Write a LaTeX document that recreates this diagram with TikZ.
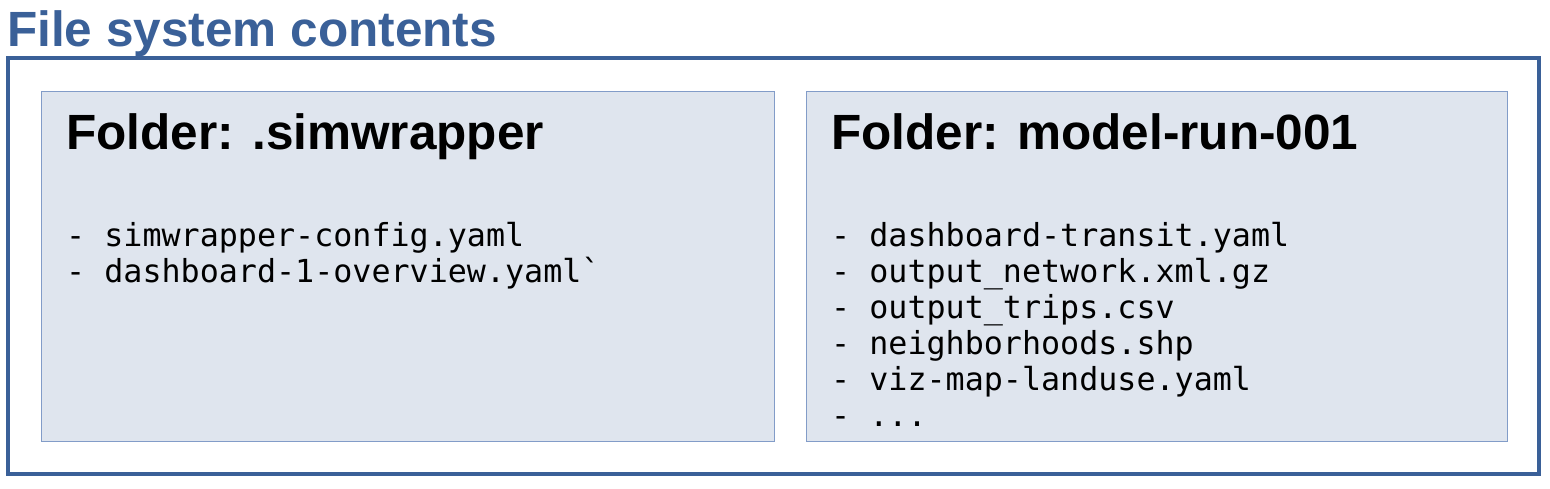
\documentclass[tikz,border=0pt]{standalone}
\usepackage{fontspec}
\setmainfont{Liberation Sans}
\setmonofont{DejaVu Sans Mono}
\usetikzlibrary{positioning}
\definecolor{fsblue}{RGB}{58,96,152}
\definecolor{panelfill}{RGB}{223,229,238}
\definecolor{paneledge}{RGB}{130,156,200}

\begin{document}
\begin{tikzpicture}[x=1pt,y=-1pt]
% Styles: outer frame, folder panels, headings and file lines
\tikzstyle{frame}=[draw=fsblue,line width=4.5pt]
\tikzstyle{panel}=[draw=paneledge,fill=panelfill,line width=1pt]
\tikzstyle{heading}=[anchor=base west,inner sep=0,font=\bfseries\fontsize{49.5}{58}\selectfont]
\tikzstyle{file}=[anchor=base west,inner sep=0,font=\ttfamily\fontsize{31.7}{36}\selectfont]
\useasboundingbox (0,0) rectangle (1550,488);
% The title and the frame
\node(title)[heading,text=fsblue] at (7,46) {File system contents};
\draw[frame] (8,58) rectangle (1539,474);
% The two folders
\draw[panel] (41,91) rectangle (774,441);
\draw[panel] (806,91) rectangle (1507,441);
\node(left)[heading] at (66,149) {Folder: .simwrapper};
\node(right)[heading] at (831,149) {Folder: model-run-001};
% The files in each folder
\foreach \f [count=\i] in {simwrapper-config.yaml,dashboard-1-overview.yaml\textasciigrave}
  \node(l\i)[file] at (66,210+36*\i) {- \f};
\foreach \f [count=\i] in {dashboard-transit.yaml,output\_network.xml.gz,output\_trips.csv,neighborhoods.shp,viz-map-landuse.yaml}
  \node(r\i)[file] at (831,210+36*\i) {- \f};
\node(r6)[file,anchor=base west] at ([yshift=-36pt]r5.base west) {- ...};
\end{tikzpicture}
\end{document}
